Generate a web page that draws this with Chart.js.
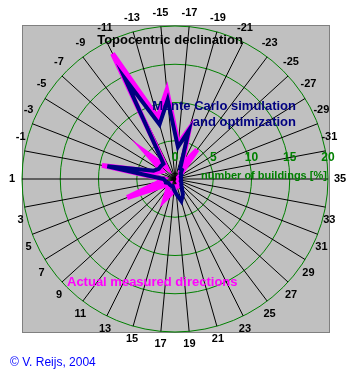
<!DOCTYPE html>
<html><head><meta charset="utf-8">
<script src="https://cdn.jsdelivr.net/npm/chart.js@4/dist/chart.umd.min.js"></script>
<style>html,body{margin:0;padding:0;background:#fff}#wrap{width:356px;height:374px;position:relative}</style>
</head><body><div id="wrap"><canvas id="c"></canvas></div>
<script>
const declinationLabels = ['1','-1','-3','-5','-7','-9','-11','-13','-15','-17','-19','-21','-23','-25','-27','-29','-31','35','33','31','29','27','25','23','21','19','17','15','13','11','9','7','5','3'];
const actualMeasured = [1.5,9.7,2.5,2.0,5.0,2.0,18.3,8.3,11.6,4.6,6.8,2.0,4.8,1.0,0.8,0.5,0.5,0.5,0.5,0.5,0.5,0.8,1.0,1.0,1.0,1.0,1.5,2.0,3.0,1.5,1.0,1.5,6.7,2.0];
const monteCarlo = [1.5,9.0,3.0,2.5,2.5,2.5,14.6,7.4,10.4,4.2,6.6,1.5,1.5,1.0,1.0,0.8,0.8,0.8,0.8,0.8,1.0,1.1,1.5,2.3,3.0,2.0,1.4,1.0,1.0,1.0,1.0,1.0,1.3,1.3];
const radiusTicks = [0,5,10,15,20];
const seriesNames = ['Monte Carlo simulation','and optimization','Actual measured directions'];
const chartTitle = 'Topocentric declination';
const axisTitle = 'number of buildings [%]';
const credit = '\u00A9 V. Reijs, 2004';

const decorPlugin = {
  id: 'decor',
  beforeDraw(chart) {
    const ctx = chart.ctx, s = chart.scales.r, R = s.drawingArea;
    ctx.save();
    ctx.fillStyle = '#c0c0c0';
    ctx.fillRect(s.xCenter - R, s.yCenter - R - 1, 2 * R + 2, 2 * R + 2);
    ctx.strokeStyle = '#808080';
    ctx.lineWidth = 1;
    ctx.strokeRect(s.xCenter - R + 0.5, s.yCenter - R - 0.5, 2 * R + 1, 2 * R + 1);
    ctx.restore();
  },
  afterDraw(chart) {
    const ctx = chart.ctx, s = chart.scales.r, R = s.drawingArea;
    ctx.save();
    // point labels
    ctx.fillStyle = '#000';
    ctx.font = 'bold 11px "Liberation Sans", Arial, sans-serif';
    ctx.textAlign = 'center';
    ctx.textBaseline = 'middle';
    declinationLabels.forEach((lab, i) => {
      const p = s.getPointPosition(i, R);
      const a = s.getIndexAngle(i) - Math.PI / 2;
      const c = Math.cos(a), sn = Math.sin(a);
      let x, y;
      if (Math.abs(sn) < 0.01) { x = p.x + (c < 0 ? -10 : 12); y = p.y; }
      else { x = p.x + 4 * c; y = p.y + (sn < 0 ? -14 : 13); }
      ctx.fillText(lab, x, y);
    });
    // radial tick labels
    ctx.fillStyle = '#008000';
    ctx.font = 'bold 12px "Liberation Sans", Arial, sans-serif';
    radiusTicks.forEach(v => {
      const d = s.getDistanceFromCenterForValue(v);
      ctx.fillText(String(v), s.xCenter + d, s.yCenter - 21);
    });
    ctx.font = 'bold 11px "Liberation Sans", Arial, sans-serif';
    ctx.textAlign = 'left';
    ctx.fillText(axisTitle, s.xCenter + 26, s.yCenter - 3);
    // title
    ctx.fillStyle = '#000';
    ctx.font = 'bold 13px "Liberation Sans", Arial, sans-serif';
    ctx.textAlign = 'center';
    ctx.fillText(chartTitle, 170, 40);
    // series names
    ctx.fillStyle = '#000080';
    ctx.textAlign = 'right';
    ctx.fillText(seriesNames[0], 296, 106);
    ctx.fillText(seriesNames[1], 296, 122);
    ctx.fillStyle = '#ff00ff';
    ctx.textAlign = 'left';
    ctx.fillText(seriesNames[2], 67, 282);
    // credit
    ctx.fillStyle = '#0000ff';
    ctx.font = '12px "Liberation Sans", Arial, sans-serif';
    ctx.fillText(credit, 10, 363);
    ctx.restore();
  }
};

new Chart(document.getElementById('c'), {
  type: 'radar',
  data: {
    labels: declinationLabels,
    datasets: [
      { label: seriesNames[0] + ' ' + seriesNames[1], data: monteCarlo, borderColor: '#000080', borderWidth: 4, fill: false, pointRadius: 0, borderJoinStyle: 'miter', order: 0 },
      { label: seriesNames[2], data: actualMeasured, borderColor: '#ff00ff', borderWidth: 5, fill: false, pointRadius: 0, borderJoinStyle: 'miter', order: 1 }
    ]
  },
  options: {
    responsive: true, maintainAspectRatio: false, animation: false,
    layout: { padding: { left: 22, top: 26, right: 27, bottom: 41 } },
    plugins: { legend: { display: false }, tooltip: { enabled: false } },
    scales: {
      r: {
        min: 0, max: 20, startAngle: -90,
        ticks: { display: false, stepSize: 5 },
        grid: { circular: true, color: '#008000', lineWidth: 1 },
        angleLines: { color: '#000', lineWidth: 1 },
        pointLabels: { display: false }
      }
    }
  },
  plugins: [decorPlugin]
});
</script>
</body></html>
